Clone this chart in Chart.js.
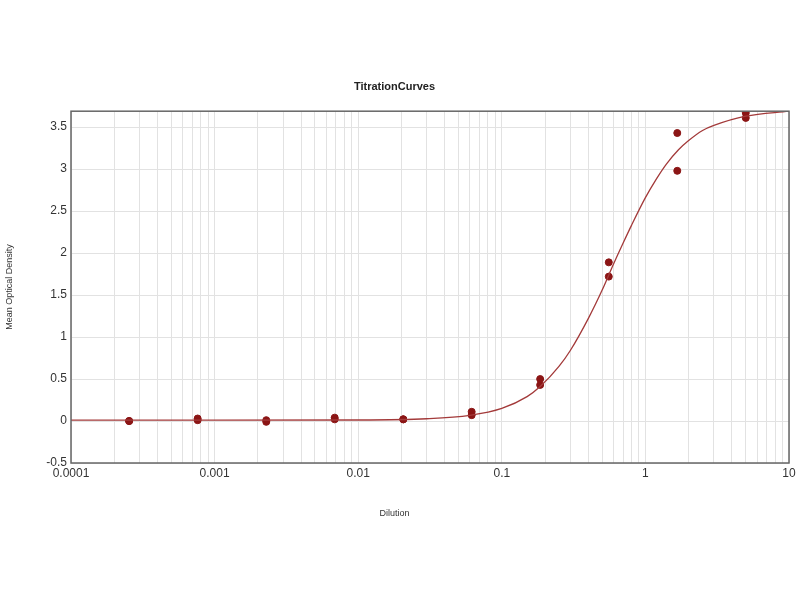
<!DOCTYPE html>
<html>
<head>
<meta charset="utf-8">
<title>TitrationCurves</title>
<script src="https://cdn.jsdelivr.net/npm/chart.js@4/dist/chart.umd.min.js"></script>
<style>
  html, body { margin: 0; padding: 0; background: #fff; }
  canvas { display: block; }
</style>
</head>
<body>
<canvas id="chart" width="800" height="600"></canvas>
<script>
// Measured points (two replicates per dilution)
const dilutions = [5, 1.667, 0.556, 0.185, 0.0617, 0.0206, 0.00686, 0.00229, 0.000762, 0.000254];
const odRep1 = [3.67, 3.43, 1.89, 0.50, 0.11, 0.02, 0.04, 0.01, 0.03, 0.00];
const odRep2 = [3.61, 2.98, 1.72, 0.43, 0.07, 0.02, 0.02, -0.01, 0.01, 0.00];

// Fitted curve
const curveX = [0.0001, 0.001, 0.01, 0.03, 0.06, 0.1, 0.15, 0.185, 0.25, 0.3, 0.4, 0.5, 0.6, 0.7, 0.8, 1.0, 1.2, 1.4, 1.7, 2.0, 2.5, 3.0, 5.0, 10];
const curveY = [0.01, 0.01, 0.012, 0.027, 0.068, 0.15, 0.29, 0.41, 0.65, 0.84, 1.22, 1.56, 1.87, 2.12, 2.33, 2.66, 2.89, 3.06, 3.23, 3.34, 3.46, 3.52, 3.63, 3.69];

// Axis ticks
const xDecades = [0.0001, 0.001, 0.01, 0.1, 1, 10];
const xMinorSteps = [2, 3, 4, 5, 6, 7, 8, 9];
const yTicks = [-0.5, 0, 0.5, 1, 1.5, 2, 2.5, 3, 3.5];

const xTicks = [];
xDecades.forEach((d, i) => {
    xTicks.push(d);
    if (i < xDecades.length - 1) xMinorSteps.forEach(m => xTicks.push(+(d * m).toPrecision(3)));
});

const tickFont = { family: "'Liberation Sans', Arial, sans-serif", size: 12 };
const smallFont = { family: "'Liberation Sans', Arial, sans-serif", size: 9 };

const pts = (xs, ys) => xs.map((x, i) => ({ x, y: ys[i] }));

// full frame around the plot
const frame = {
    id: 'frame',
    afterDraw(chart) {
        const { ctx, chartArea: a } = chart;
        ctx.save();
        ctx.strokeStyle = '#666';
        ctx.lineWidth = 1.5;
        ctx.strokeRect(a.left, a.top, a.right - a.left, a.bottom - a.top);
        ctx.restore();
    }
};

new Chart(document.getElementById('chart'), {
    type: 'scatter',
    data: {
        datasets: [
            {
                label: 'Fit',
                data: pts(curveX, curveY),
                showLine: true,
                pointRadius: 0,
                borderColor: '#a33a3a',
                borderWidth: 1.3,
                cubicInterpolationMode: 'monotone'
            },
            {
                label: 'Replicate 1',
                data: pts(dilutions, odRep1),
                pointRadius: 3.5,
                backgroundColor: '#8b1515',
                borderColor: '#8b1515'
            },
            {
                label: 'Replicate 2',
                data: pts(dilutions, odRep2),
                pointRadius: 3.5,
                backgroundColor: '#8b1515',
                borderColor: '#8b1515'
            }
        ]
    },
    options: {
        responsive: false,
        animation: false,
        layout: { padding: { left: 0, right: 11, top: 0, bottom: 0 } },
        plugins: {
            legend: { display: false },
            tooltip: { enabled: false },
            title: {
                display: true,
                text: 'TitrationCurves',
                color: '#222',
                font: { family: "'Liberation Sans Narrow', 'Liberation Sans', Arial, sans-serif", size: 11, weight: 'bold' },
                padding: { top: 80, bottom: 18 }
            },
            subtitle: {
                display: true,
                position: 'bottom',
                text: 'Dilution',
                color: '#333',
                font: smallFont,
                padding: { top: 5.6, bottom: 80.6 }
            }
        },
        scales: {
            x: {
                type: 'logarithmic',
                min: 0.0001,
                max: 10,
                afterBuildTicks: s => { s.ticks = xTicks.map(v => ({ value: v })); },
                afterFit: s => { s.height = 40; },
                grid: { color: '#e2e2e2', drawTicks: false },
                border: { display: false },
                ticks: {
                    autoSkip: false,
                    maxRotation: 0,
                    padding: 3,
                    color: '#333',
                    font: tickFont,
                    callback: v => xDecades.includes(v) ? String(v) : ''
                }
            },
            y: {
                min: -0.5,
                max: 3.69,
                afterBuildTicks: s => { s.ticks = yTicks.map(v => ({ value: v })); },
                afterFit: s => { s.width = 71; },
                grid: { color: '#e2e2e2', drawTicks: false },
                border: { display: false },
                ticks: {
                    padding: 4,
                    color: '#333',
                    font: tickFont,
                    callback: v => String(v)
                },
                title: {
                    display: true,
                    text: 'Mean Optical Density',
                    color: '#333',
                    font: smallFont,
                    padding: { top: 4, bottom: 0 }
                }
            }
        }
    },
    plugins: [frame]
});
</script>
</body>
</html>
